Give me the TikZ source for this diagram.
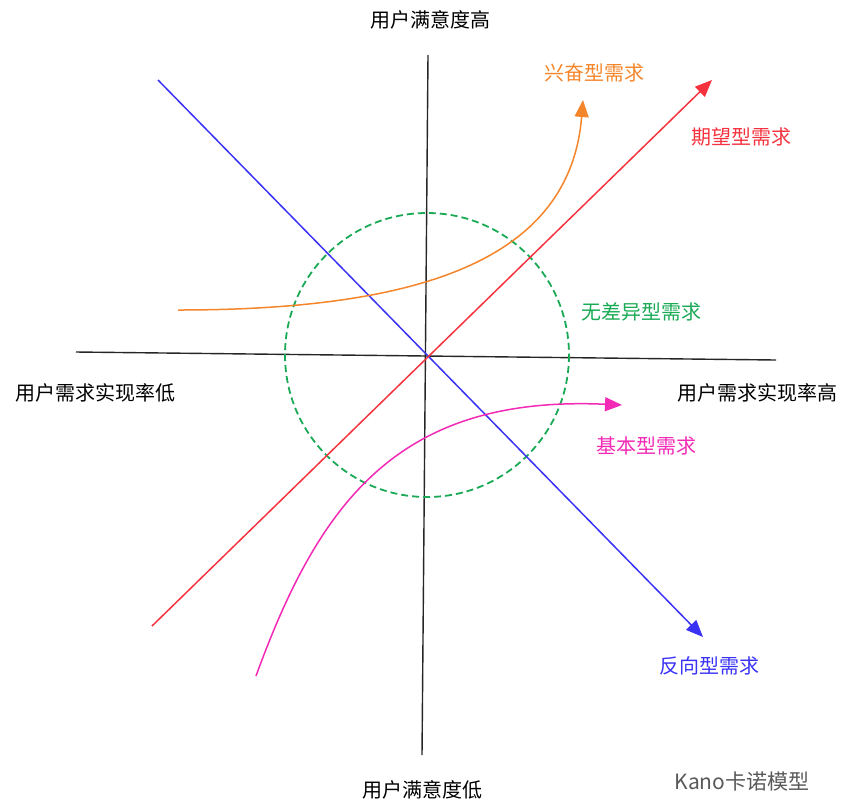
\documentclass[tikz,border=0pt]{standalone}
\usepackage{fontspec}
\setmainfont{Noto Sans CJK SC}
\usetikzlibrary{arrows.meta}
\definecolor{cor}{HTML}{F5852A}
\definecolor{cre}{HTML}{F5333F}
\definecolor{cgr}{HTML}{1AAA55}
\definecolor{cpk}{HTML}{F22AB5}
\definecolor{cbl}{HTML}{3A33F5}
\tikzset{lbl/.style={font=\fontsize{20}{24}\selectfont,inner sep=0pt},
tip/.style={-{Triangle[length=17pt,width=14pt]}}}
\begin{document}
\begin{tikzpicture}[x=1pt,y=-1pt]
\useasboundingbox (0,0) rectangle (853,807);
\coordinate (vt) at (428,55); \coordinate (vb) at (422,755);
\coordinate (hl) at (76,352); \coordinate (hr) at (776,360);
\draw[line width=1.4pt,black!85] (vt) -- (vb);
\draw[line width=1.4pt,black!85] (hl) -- (hr);
\draw[cgr,line width=1.8pt,dash pattern=on 7pt off 4pt] (427,355) circle (142);
\coordinate (b1) at (158,80); \coordinate (b2) at (703,637);
\draw[cbl,line width=1.5pt,tip] (b1) -- (b2);
\coordinate (r1) at (152,626); \coordinate (r2) at (712,80);
\draw[cre,line width=1.5pt,tip] (r1) -- (r2);
\coordinate (o1) at (178,310); \coordinate (o2) at (583,100);
\draw[cor,line width=1.5pt,tip] (o1) .. controls (420,310) and (570,260) .. (o2);
\coordinate (p1) at (256,676); \coordinate (p2) at (622,405);
\draw[cpk,line width=1.5pt,tip] (p1) .. controls (320,500) and (400,395) .. (p2);
\node[lbl] (t1) at (430,20) {用户满意度高};
\node[lbl] (t2) at (422,790) {用户满意度低};
\node[lbl] (t3) at (95,393) {用户需求实现率低};
\node[lbl] (t4) at (757,393) {用户需求实现率高};
\node[lbl,text=cor] (t5) at (594,73) {兴奋型需求};
\node[lbl,text=cre] (t6) at (741,137) {期望型需求};
\node[lbl,text=cgr] (t7) at (641,312) {无差异型需求};
\node[lbl,text=cpk] (t8) at (646,446) {基本型需求};
\node[lbl,text=cbl] (t9) at (709,666) {反向型需求};
\node[lbl,text=black!65,font=\fontsize{21}{24}\selectfont] (t10) at (742,782) {Kano卡诺模型};
\end{tikzpicture}
\end{document}
